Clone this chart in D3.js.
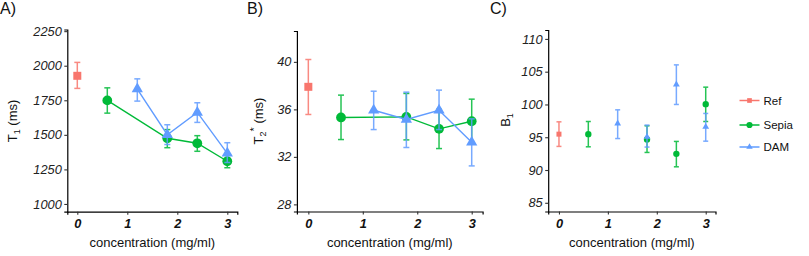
<!DOCTYPE html>
<html><head><meta charset="utf-8">
<script src="https://cdn.jsdelivr.net/npm/d3@7"></script>
<style>body{margin:0;background:#fff}svg{display:block;font-family:"Liberation Sans",Arial,sans-serif}</style>
</head><body><svg id="c" width="809" height="256"></svg>
<script>
// ---- data ----
const groups = ["Ref","Sepia","DAM"];
const colors = ["#F8766D","#00BA38","#619CFF"];
const refX = [0];
const sepiaX = [0.6, 1.8, 2.4, 3];
const damX = [1.2, 1.8, 2.4, 3];
// Panel A: T1 (ms)
const t1Ref = [1927], t1RefLo = [1836], t1RefHi = [2024];
const t1Sepia = [1749, 1475, 1439, 1309], t1SepiaLo = [1657, 1407, 1381, 1262], t1SepiaHi = [1840, 1538, 1494, 1352];
const t1Dam = [1831, 1501, 1662, 1366], t1DamLo = [1744, 1430, 1590, 1300], t1DamHi = [1905, 1573, 1732, 1443];
// Panel B: T2* (ms)
const t2Ref = [37.9], t2RefLo = [35.57], t2RefHi = [40.2];
const t2Sepia = [35.32, 35.37, 34.36, 35.0], t2SepiaLo = [33.46, 33.43, 32.7, 33.1], t2SepiaHi = [37.2, 37.34, 36.0, 36.86];
const t2Dam = [35.93, 35.15, 35.93, 33.24], t2DamLo = [34.3, 32.79, 34.3, 31.24], t2DamHi = [37.53, 37.45, 37.62, 35.2];
// Panel C: B1
const b1Ref = [95.47], b1RefLo = [93.6], b1RefHi = [97.35];
const b1Sepia = [95.47, 94.66, 92.47, 100.05], b1SepiaLo = [93.54, 92.68, 90.49, 97.4], b1SepiaHi = [97.4, 96.74, 94.36, 102.64];
const b1Dam = [97.1, 95.06, 103.05, 96.59], b1DamLo = [94.8, 93.5, 100.0, 94.4], b1DamHi = [99.18, 96.85, 106.04, 98.63];
const xTicks = [0, 1, 2, 3];
const t1Ticks = [1000, 1250, 1500, 1750, 2000, 2250];
const t2Ticks = [28, 32, 36, 40];
const b1Ticks = [85, 90, 95, 100, 105, 110];

const svg = d3.select("#c");
const shapes = [d3.symbolSquare, d3.symbolCircle, d3.symbolTriangle];
const fmt = d3.format("d");

function mk(xs, ys, lo, hi){ return xs.map((x,i)=>({x, y:ys[i], lo:lo[i], hi:hi[i]})); }

function panel(o){
  const x = d3.scaleLinear().domain(o.xd).range(o.xr);
  const y = d3.scaleLinear().domain(o.yd).range(o.yr);
  const g = svg.append("g");
  const ya = g.append("g").attr("transform",`translate(${o.xr[0]},0)`)
    .call(d3.axisLeft(y).tickValues(o.yTicks).tickFormat(fmt).tickSizeOuter(0).tickSize(3).tickPadding(2.5));
  const xa = g.append("g").attr("transform",`translate(0,${o.yr[0]})`)
    .call(d3.axisBottom(x).tickValues(xTicks).tickFormat(fmt).tickSizeOuter(0).tickSize(3).tickPadding(4));
  [ya,xa].forEach(a=>{
    a.select(".domain").attr("stroke","#000").attr("stroke-width",1.2);
    a.selectAll(".tick line").attr("stroke","#333").attr("stroke-width",1.1);
  });
  ya.selectAll("text").attr("font-size",12.8).attr("font-style","italic").attr("fill","#222");
  xa.selectAll("text").attr("font-size",12.8).attr("font-style","italic").attr("font-weight","bold").attr("fill","#111");
  g.append("text").attr("x",(o.xr[0]+o.xr[1])/2).attr("y",247).attr("text-anchor","middle")
    .attr("font-size",13).attr("fill","#111").text("concentration (mg/ml)");
  const yt = g.append("text").attr("transform",`translate(${o.ytx},${o.yty}) rotate(-90)`)
    .attr("text-anchor","middle").attr("font-size",13).attr("fill","#111");
  o.ytitle(yt);
  g.append("text").attr("x",o.lx).attr("y",14).attr("font-size",16).attr("fill","#111").text(o.label);
  o.series.forEach(s=>{
    const ci = s.gi;
    if(o.lines && s.d.length>1){
      g.append("path").datum(s.d).attr("fill","none").attr("stroke",colors[ci]).attr("stroke-width",1.4)
        .attr("d",d3.line().x(d=>x(d.x)).y(d=>y(d.y)));
    }
    const eb = g.append("g").attr("stroke",colors[ci]).attr("stroke-width",1.5).attr("opacity",0.85);
    s.d.forEach(d=>{
      const cx=x(d.x);
      eb.append("line").attr("x1",cx).attr("x2",cx).attr("y1",y(d.lo)).attr("y2",y(d.hi));
      eb.append("line").attr("x1",cx-o.cap).attr("x2",cx+o.cap).attr("y1",y(d.lo)).attr("y2",y(d.lo));
      eb.append("line").attr("x1",cx-o.cap).attr("x2",cx+o.cap).attr("y1",y(d.hi)).attr("y2",y(d.hi));
    });
    g.selectAll(null).data(s.d).enter().append("path")
      .attr("transform",d=>`translate(${x(d.x)},${y(d.y)})`)
      .attr("d",d3.symbol().type(shapes[ci]).size(o.sizes[ci]))
      .attr("fill",colors[ci]);
  });
}

panel({label:"A)", lx:0, xd:[-0.2,3.2], xr:[67.3,237.3], yd:[944,2262], yr:[211.7,29.5], yTicks:t1Ticks,
  ytx:17, yty:121, lines:true, cap:3, sizes:[64,75,55],
  ytitle:t=>{t.append("tspan").text("T");t.append("tspan").attr("font-size",9).attr("dy",3).text("1");t.append("tspan").attr("dy",-3).text(" (ms)");},
  series:[{gi:0,d:mk(refX,t1Ref,t1RefLo,t1RefHi)},{gi:1,d:mk(sepiaX,t1Sepia,t1SepiaLo,t1SepiaHi)},{gi:2,d:mk(damX,t1Dam,t1DamLo,t1DamHi)}]});

panel({label:"B)", lx:247, xd:[-0.21,3.2], xr:[296.9,482.6], yd:[27.4,42.6], yr:[211.5,31], yTicks:t2Ticks,
  ytx:263, yty:121, lines:true, cap:3, sizes:[64,75,55],
  ytitle:t=>{t.append("tspan").text("T");t.append("tspan").attr("font-size",9).attr("dy",3).text("2");t.append("tspan").attr("font-size",11).attr("dy",-8).text("*");t.append("tspan").attr("dy",5).text(" (ms)");},
  series:[{gi:0,d:mk(refX,t2Ref,t2RefLo,t2RefHi)},{gi:1,d:mk(sepiaX,t2Sepia,t2SepiaLo,t2SepiaHi)},{gi:2,d:mk(damX,t2Dam,t2DamLo,t2DamHi)}]});

panel({label:"C)", lx:490, xd:[-0.22,3.2], xr:[548.2,715.5], yd:[83.67,111.36], yr:[211.5,30], yTicks:b1Ticks,
  ytx:510, yty:120, lines:false, cap:2.5, sizes:[25,32,20],
  ytitle:t=>{t.append("tspan").text("B");t.append("tspan").attr("font-size",9).attr("dy",3).text("1");},
  series:[{gi:0,d:mk(refX,b1Ref,b1RefLo,b1RefHi)},{gi:1,d:mk(sepiaX,b1Sepia,b1SepiaLo,b1SepiaHi)},{gi:2,d:mk(damX,b1Dam,b1DamLo,b1DamHi)}]});

// legend
const lg = svg.append("g");
const legY = [100.5, 125, 147];
groups.forEach((n,i)=>{
  lg.append("line").attr("x1",739.5).attr("x2",759.5).attr("y1",legY[i]).attr("y2",legY[i]).attr("stroke",colors[i]).attr("stroke-width",1.5);
  lg.append("path").attr("transform",`translate(749.5,${legY[i]})`).attr("d",d3.symbol().type(shapes[i]).size([22,30,18][i])).attr("fill",colors[i]);
  lg.append("text").attr("x",763.5).attr("y",legY[i]+4).attr("font-size",11.5).attr("fill","#111").text(n);
});
</script></body></html>
